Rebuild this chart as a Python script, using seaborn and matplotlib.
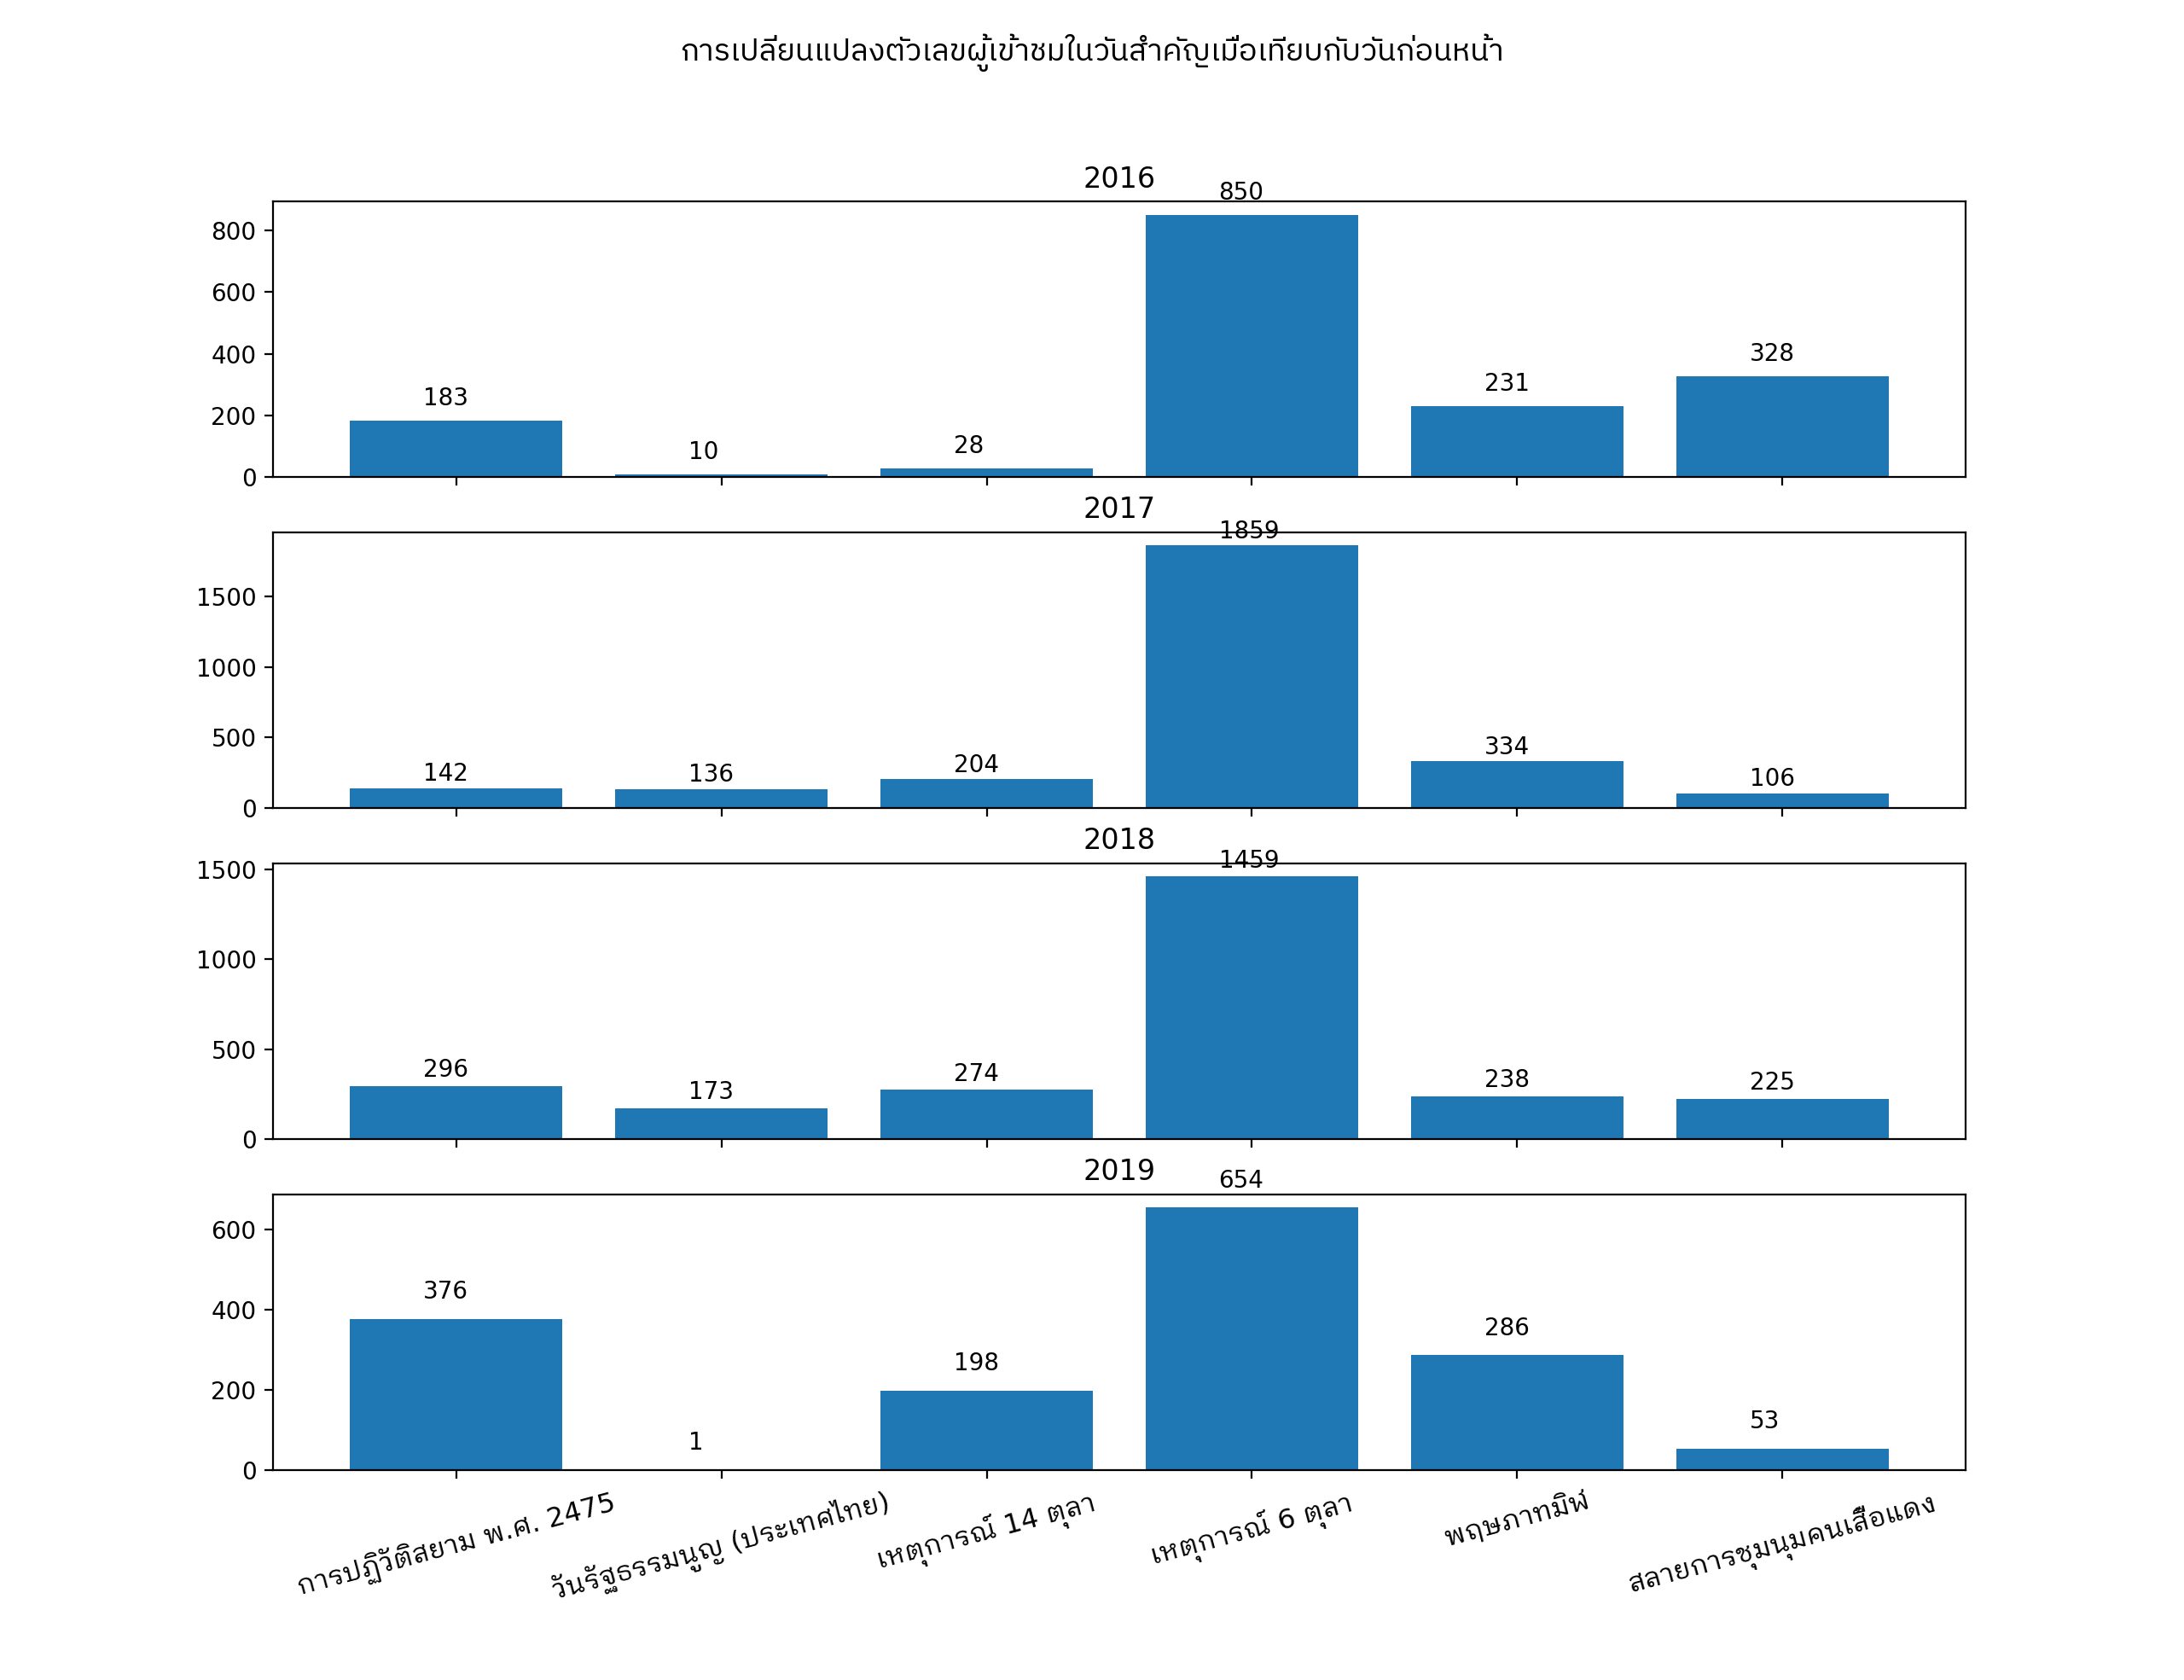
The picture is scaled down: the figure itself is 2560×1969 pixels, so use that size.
import pandas as pd
import seaborn as sns
import matplotlib
matplotlib.use("Agg")
import matplotlib.pyplot as plt

plt.rcParams['font.family'] = ['DejaVu Sans', 'IBM Plex Sans Thai Looped']

events = ['การปฏิวัติสยาม พ.ศ. 2475', 'วันรัฐธรรมนูญ (ประเทศไทย)', 'เหตุการณ์ 14 ตุลา',
          'เหตุการณ์ 6 ตุลา', 'พฤษภาทมิฬ', 'สลายการชุมนุมคนเสื้อแดง']
years = ['2016', '2017', '2018', '2019']
v2016 = [183, 10, 28, 850, 231, 328]
v2017 = [142, 136, 204, 1859, 334, 106]
v2018 = [296, 173, 274, 1459, 238, 225]
v2019 = [376, 1, 198, 654, 286, 53]
values = [v2016, v2017, v2018, v2019]

fig, axes = plt.subplots(4, 1, figsize=(12.8, 9.845), dpi=200, sharex=True)
fig.subplots_adjust(bottom=0.125)

for ax, year, vals in zip(axes, years, values):
    df = pd.DataFrame({'event': events, 'count': vals})
    sns.barplot(data=df, x='event', y='count', color='#1f77b4', saturation=1,
                width=0.8, ax=ax)
    for i, v in enumerate(vals):
        ax.text(i - 0.125, v + 50, str(v), fontsize=10)
    ax.set_title(year)
    ax.set_xlabel('')
    ax.set_ylabel('')
    ax.set_xlim(-0.4 - 0.05 * 5.8, 5.4 + 0.05 * 5.8)
    ax.set_ylim(0, max(vals) * 1.05)

for lab in axes[-1].get_xticklabels():
    lab.set_rotation(15)
    lab.set_fontsize(11.5)

fig.suptitle('การเปลี่ยนแปลงตัวเลขผู้เข้าชมในวันสำคัญเมื่อเทียบกับวันก่อนหน้า',
             fontsize=13, family=['IBM Plex Sans Thai', 'DejaVu Sans'])

fig.savefig('out.png')
